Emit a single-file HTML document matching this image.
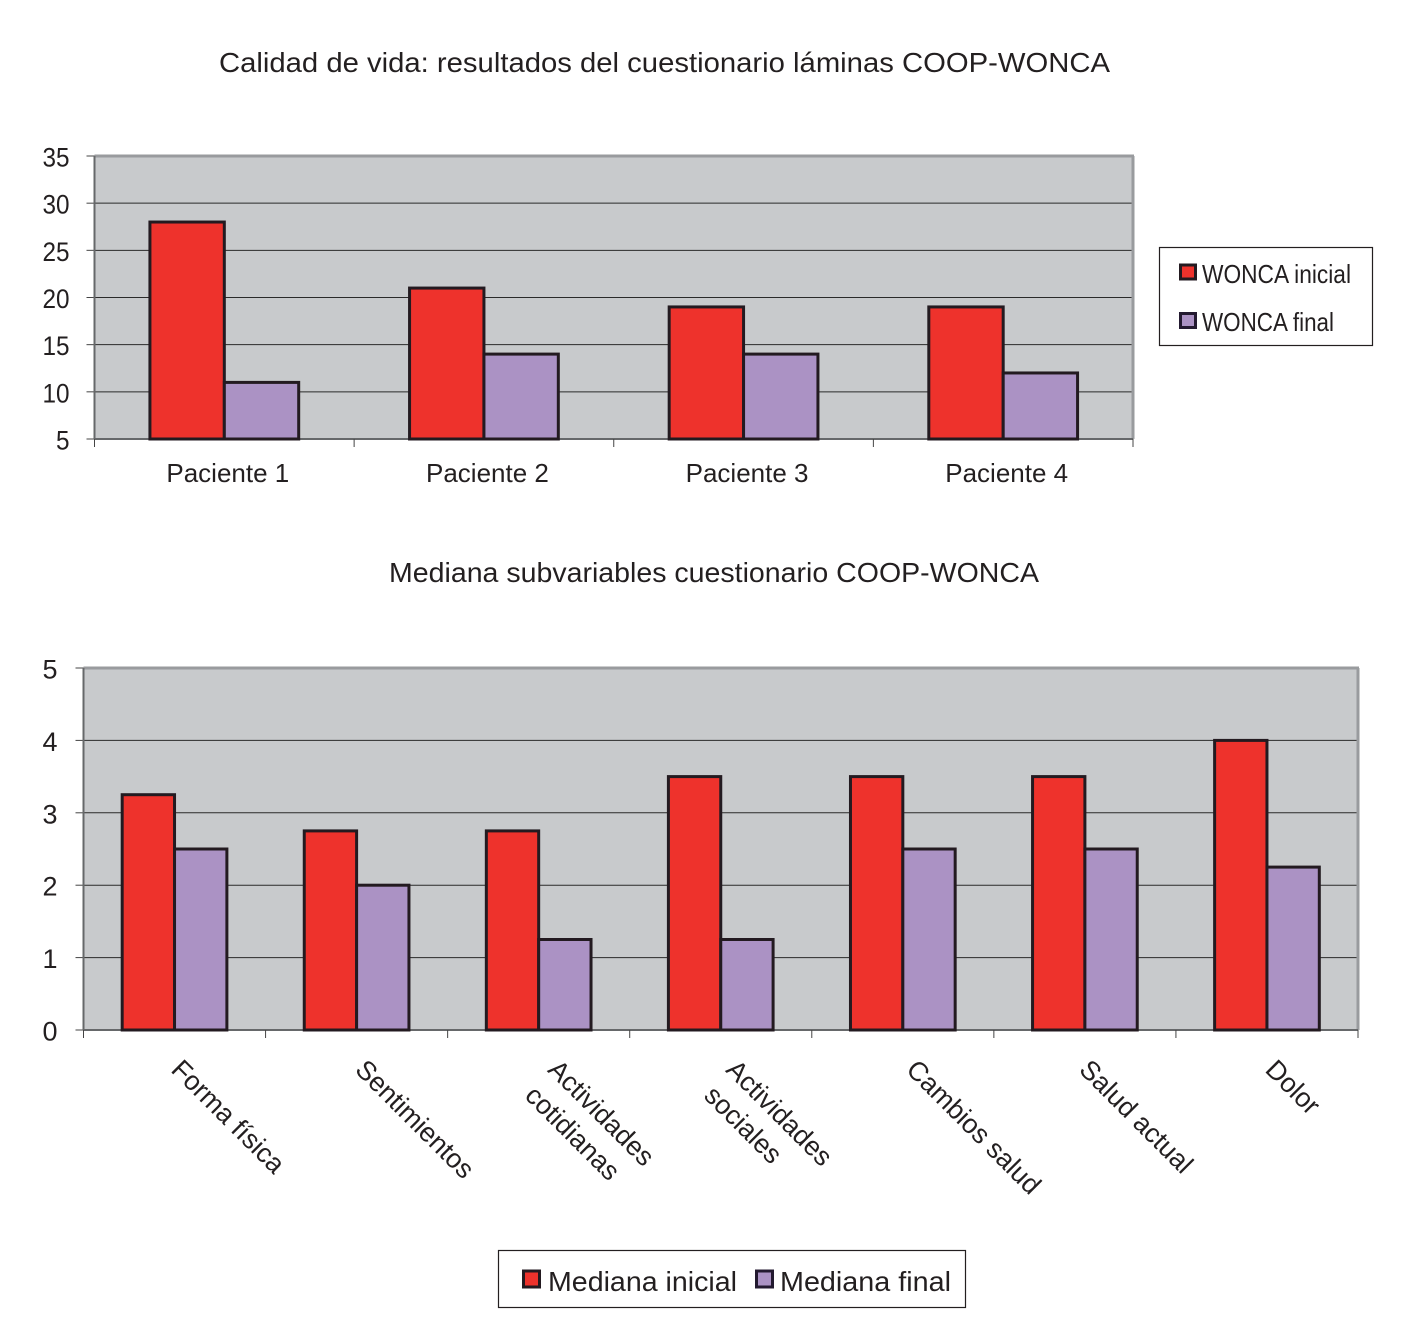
<!DOCTYPE html>
<html lang="es">
<head>
<meta charset="utf-8">
<title>Calidad de vida COOP-WONCA</title>
<style>
html,body{margin:0;padding:0;background:#fff;width:1404px;height:1333px;overflow:hidden}
svg{display:block}
text{font-family:"Liberation Sans",sans-serif;fill:#231f20}
</style>
</head>
<body>
<svg id="figure" xmlns="http://www.w3.org/2000/svg" width="1404" height="1333" viewBox="0 0 1404 1333">
  <rect width="1404" height="1333" fill="#fff"/>
  <text x="219" y="72" font-size="28" textLength="891" lengthAdjust="spacingAndGlyphs">Calidad de vida: resultados del cuestionario láminas COOP-WONCA</text>
  <text x="389" y="582" font-size="28" textLength="650" lengthAdjust="spacingAndGlyphs">Mediana subvariables cuestionario COOP-WONCA</text>
  <g id="chart1"></g>
  <g id="chart2"></g>

  <g>
    <rect x="1159.5" y="247.5" width="213" height="98" fill="#fff" stroke="#231f20" stroke-width="1.2"/>
    <rect x="1180.5" y="265" width="15" height="14" fill="#ee322c" stroke="#231a20" stroke-width="3"/>
    <text x="1202" y="283" font-size="26" textLength="149" lengthAdjust="spacingAndGlyphs">WONCA inicial</text>
    <rect x="1180.5" y="313.5" width="15" height="14" fill="#ab92c4" stroke="#231a30" stroke-width="3"/>
    <text x="1202" y="331" font-size="26" textLength="132" lengthAdjust="spacingAndGlyphs">WONCA final</text>
  </g>

  <g>
    <rect x="498.5" y="1250.5" width="467" height="57" fill="#fff" stroke="#231f20" stroke-width="1.2"/>
    <rect x="523.5" y="1271" width="16" height="16" fill="#ee322c" stroke="#231a20" stroke-width="3"/>
    <text x="548" y="1291" font-size="28" textLength="189" lengthAdjust="spacingAndGlyphs">Mediana inicial</text>
    <rect x="756.5" y="1271" width="16" height="16" fill="#ab92c4" stroke="#231a30" stroke-width="3"/>
    <text x="780" y="1291" font-size="28" textLength="171" lengthAdjust="spacingAndGlyphs">Mediana final</text>
  </g>
</svg>

<script>
// Chart 1 data
const chart1Categories = ['Paciente 1', 'Paciente 2', 'Paciente 3', 'Paciente 4'];
const chart1Inicial = [28, 21, 19, 19];
const chart1Final = [11, 14, 14, 12];
const chart1Ticks = [5, 10, 15, 20, 25, 30, 35];

// Chart 2 data
const chart2Categories = [
  ['Forma física'],
  ['Sentimientos'],
  ['Actividades', 'cotidianas'],
  ['Actividades', 'sociales'],
  ['Cambios salud'],
  ['Salud actual'],
  ['Dolor']
];
const chart2Inicial = [3.25, 2.75, 2.75, 3.5, 3.5, 3.5, 4];
const chart2Final = [2.5, 2, 1.25, 1.25, 2.5, 2.5, 2.25];
const chart2Ticks = [0, 1, 2, 3, 4, 5];

const NS = 'http://www.w3.org/2000/svg';
function make(parent, tag, props) {
  const el = document.createElementNS(NS, tag);
  for (const k in props) el.setAttribute(k, props[k]);
  parent.appendChild(el);
  return el;
}

function condense(el, factor) {
  const len = el.getComputedTextLength();
  el.setAttribute('textLength', len * factor);
  el.setAttribute('lengthAdjust', 'spacingAndGlyphs');
}

function drawChart(root, box, categories, seriesA, seriesB, ticks, opts) {
  const yMin = ticks[0];
  const yMax = ticks[ticks.length - 1];
  const yScale = v => box.bottom - (v - yMin) / (yMax - yMin) * (box.bottom - box.top);
  const band = (box.right - box.left) / categories.length;
  const barW = band * opts.barFraction;
  const xStart = i => box.left + band * i + (band - 2 * barW) / 2;

  const bg = make(root, 'rect', {x: box.left, y: box.top, width: box.right - box.left, height: box.bottom - box.top, fill: '#c8cacc'});
  
  

  ticks.forEach(t => {
    const y = yScale(t);
    if (t !== yMin && t !== yMax) {
      const grid = make(root, 'line', {x1: box.left, x2: box.right, y1: y, y2: y, stroke: '#2a2a2a', 'stroke-width': 1});
      
      
    }
    const tick = make(root, 'line', {x1: box.left - 8, x2: box.left, y1: y, y2: y, stroke: '#444', 'stroke-width': 1});
    
    
    const label = make(root, 'text', {x: box.left - opts.yLabelGap, y: y + 10.5, 'font-size': 27, 'text-anchor': 'end'});
    label.textContent = String(t);
    
    
    condense(label, opts.yLabelFit);
  });

  const top = make(root, 'line', {x1: box.left, x2: box.right + 1, y1: box.top, y2: box.top, stroke: '#999b9e', 'stroke-width': 3});
  
  
  const right = make(root, 'line', {x1: box.right, x2: box.right, y1: box.top, y2: box.bottom, stroke: '#999b9e', 'stroke-width': 3});
  
  
  const left = make(root, 'line', {x1: box.left, x2: box.left, y1: box.top, y2: box.bottom, stroke: '#66686a', 'stroke-width': 2});
  
  
  const bottom = make(root, 'line', {x1: box.left, x2: box.right, y1: box.bottom, y2: box.bottom, stroke: '#66686a', 'stroke-width': 2});
  
  

  for (let i = 0; i <= categories.length; i++) {
    const x = box.left + band * i;
    const xt = make(root, 'line', {x1: x, x2: x, y1: box.bottom, y2: box.bottom + 8, stroke: '#444', 'stroke-width': 1});
    
    
  }

  categories.forEach((c, i) => {
    const x0 = xStart(i);
    const a = make(root, 'rect', {x: x0, y: yScale(seriesA[i]), width: barW, height: box.bottom - yScale(seriesA[i]), fill: '#ee322c', stroke: '#231a20', 'stroke-width': 3});
    
    
    const b = make(root, 'rect', {x: x0 + barW, y: yScale(seriesB[i]), width: barW, height: box.bottom - yScale(seriesB[i]), fill: '#ab92c4', stroke: '#231a20', 'stroke-width': 3});
    
    
  });

  return {band};
}

const box1 = {left: 94.5, right: 1133, top: 156, bottom: 439};
const box2 = {left: 83.5, right: 1358, top: 668, bottom: 1030};
const root1 = document.getElementById('chart1');
const root2 = document.getElementById('chart2');

const r1 = drawChart(root1, box1, chart1Categories, chart1Inicial, chart1Final, chart1Ticks, {barFraction: 0.2865, yLabelGap: 25, yLabelFit: 0.9});
const r2 = drawChart(root2, box2, chart2Categories, chart2Inicial, chart2Final, chart2Ticks, {barFraction: 0.2875, yLabelGap: 26, yLabelFit: 1});

chart1Categories.forEach((c, i) => {
  const label = make(root1, 'text', {x: box1.left + r1.band * (i + 0.5) + 3.5, y: 482, 'font-size': 26, 'text-anchor': 'middle'});
  label.textContent = c;
  
  
  condense(label, 1);
});

// Rotated labels: per-label typesetting nudges from the category centre (layout, not data)
chart2Categories.forEach((lines, i) => {
  const cx = box2.left + r2.band * (i + 0.5);
  const nudges = {
    'Forma física': -4.6,
    'Sentimientos': -2.7,
    'Actividades|0': 8,
    'cotidianas': -15,
    'Actividades|1': 4,
    'sociales': -18,
    'Cambios salud': 2,
    'Salud actual': -7,
    'Dolor': -3
  };
  lines.forEach((line, j) => {
    const key = line === 'Actividades' ? (lines[1] === 'cotidianas' ? 'Actividades|0' : 'Actividades|1') : line;
    const dx = nudges[key] !== undefined ? nudges[key] : -3;
    const sx = cx + dx;
    const sy = 1071 + 26 * j;
    const g = make(root2, 'text', {x: sx, y: sy, 'font-size': 27, transform: 'rotate(45 ' + sx + ' ' + sy + ')'});
    g.textContent = line;
    
    
    condense(g, 0.99);
  });
});
</script>
</body>
</html>
